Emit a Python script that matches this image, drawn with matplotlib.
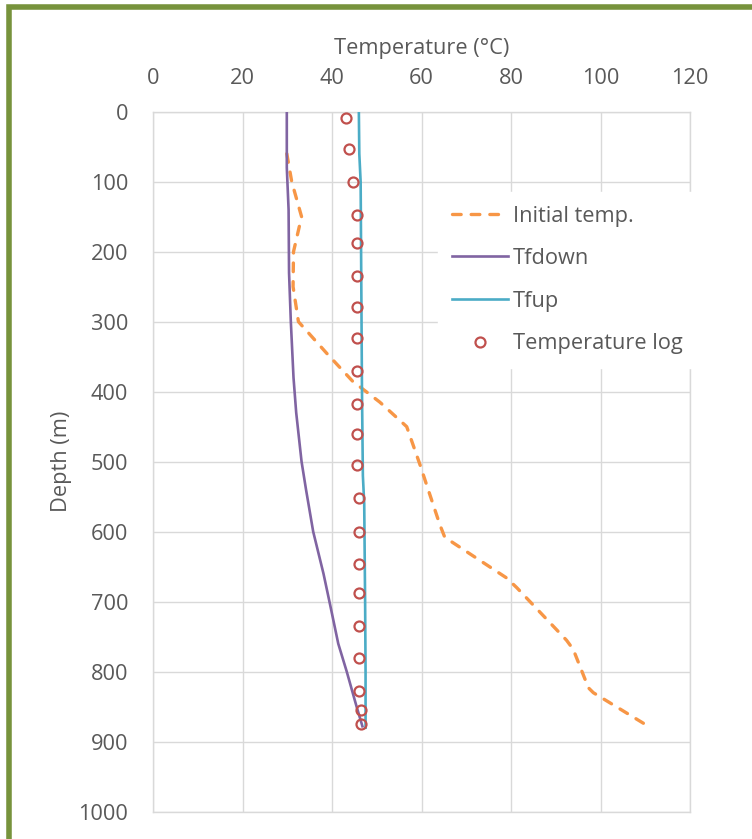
import matplotlib
matplotlib.use("Agg")
import matplotlib.pyplot as plt
from matplotlib.patches import Rectangle

plt.rcParams['font.family'] = ['Open Sans', 'DejaVu Sans']

# ---------------- data ----------------
init_depth = [60, 100, 150, 200, 250, 300, 345, 385, 415, 450, 505, 540, 590, 608,
              666, 680, 755, 768, 823, 830, 878]
init_temp = [29.9, 31.0, 33.2, 31.4, 31.3, 32.5, 38.8, 44.6, 50.7, 56.7, 59.7, 61.5,
             64.1, 65.2, 79.0, 81.3, 92.4, 93.9, 97.3, 98.4, 110.7]

down_depth = [0, 80, 140, 230, 300, 380, 430, 500, 540, 600, 660, 705, 760, 800, 850, 878]
down_temp = [29.9, 29.9, 30.3, 30.4, 30.8, 31.4, 32.0, 33.2, 34.2, 35.8, 38.1, 39.6,
             41.4, 43.3, 45.5, 46.8]

up_depth = [0, 60, 100, 200, 300, 400, 520, 560, 700, 800, 880]
up_temp = [46.0, 46.1, 46.4, 46.5, 46.6, 46.7, 46.9, 47.2, 47.4, 47.5, 47.5]

log_depth = [9, 53, 100, 147, 187, 234, 279, 323, 370, 418, 461, 505, 552, 600, 646,
             687, 734, 781, 828, 855, 875]
log_temp = [43.1, 43.9, 44.6, 45.5, 45.5, 45.5, 45.5, 45.5, 45.5, 45.5, 45.5, 45.5,
            46.0, 46.0, 46.0, 46.0, 46.0, 46.0, 46.0, 46.4, 46.4]

x_ticks = [0, 20, 40, 60, 80, 100, 120]
y_ticks = [0, 100, 200, 300, 400, 500, 600, 700, 800, 900, 1000]

labels = ["Initial temp.", "Tfdown", "Tfup", "Temperature log"]

# ---------------- style ----------------
C_ORANGE = '#F79646'
C_PURPLE = '#8064A2'
C_CYAN = '#4BACC6'
C_RED = '#C0504D'
C_GREEN = '#77933C'
C_TEXT = '#595959'
C_GRID = '#D9D9D9'
FS = 15.7

W, H = 752, 839
fig = plt.figure(figsize=(W / 100, H / 100), dpi=100)
ax = fig.add_axes([153 / W, 1 - 811.7 / H, (690 - 153) / W, (811.7 - 111.7) / H])

l1, = ax.plot(init_temp, init_depth, color=C_ORANGE, lw=2.4, ls=(0, (2.6, 3.0)),
              dash_capstyle='round', zorder=3)
l2, = ax.plot(down_temp, down_depth, color=C_PURPLE, lw=1.9, zorder=4)
l3, = ax.plot(up_temp, up_depth, color=C_CYAN, lw=1.9, zorder=4)
l4, = ax.plot(log_temp, log_depth, ls='none', marker='o', ms=7.2, mfc='none',
              mec=C_RED, mew=1.6, zorder=5)

ax.set_xlim(0, 120)
ax.set_ylim(1000, 0)
ax.set_xticks(x_ticks)
ax.set_yticks(y_ticks)
ax.xaxis.tick_top()
ax.xaxis.set_label_position('top')
ax.tick_params(axis='both', length=0, labelsize=FS, labelcolor=C_TEXT)
ax.tick_params(axis='x', pad=16)
ax.tick_params(axis='y', pad=18)
ax.grid(True, color=C_GRID, lw=1.0)
ax.set_axisbelow(True)
for s in ax.spines.values():
    s.set_color(C_GRID)
    s.set_linewidth(1.0)

ax.set_xlabel("Temperature (°C)", fontsize=FS, color=C_TEXT)
ax.xaxis.set_label_coords(0.5, 1.083)
ax.set_ylabel("Depth (m)", fontsize=FS, color=C_TEXT)
ax.yaxis.set_label_coords(-0.150, 0.5)

leg = ax.legend([l1, l2, l3, l4], labels, loc='upper left',
                bbox_to_anchor=(438 / W, 1 - 192 / H), bbox_transform=fig.transFigure,
                frameon=True, fancybox=False, framealpha=1, edgecolor='white',
                facecolor='white', fontsize=FS, handlelength=2.57, handletextpad=0.23,
                labelspacing=0.99, borderpad=0.62, borderaxespad=0)
for t in leg.get_texts():
    t.set_color(C_TEXT)

# outer green frame (extends beyond the right and bottom edges)
fig.add_artist(Rectangle((9.3 / W, -0.05), 1.1, 1 - 6.5 / H + 0.05,
                         transform=fig.transFigure, fill=False, edgecolor=C_GREEN,
                         lw=4.0, clip_on=False))

fig.savefig("out.png", dpi=100)
